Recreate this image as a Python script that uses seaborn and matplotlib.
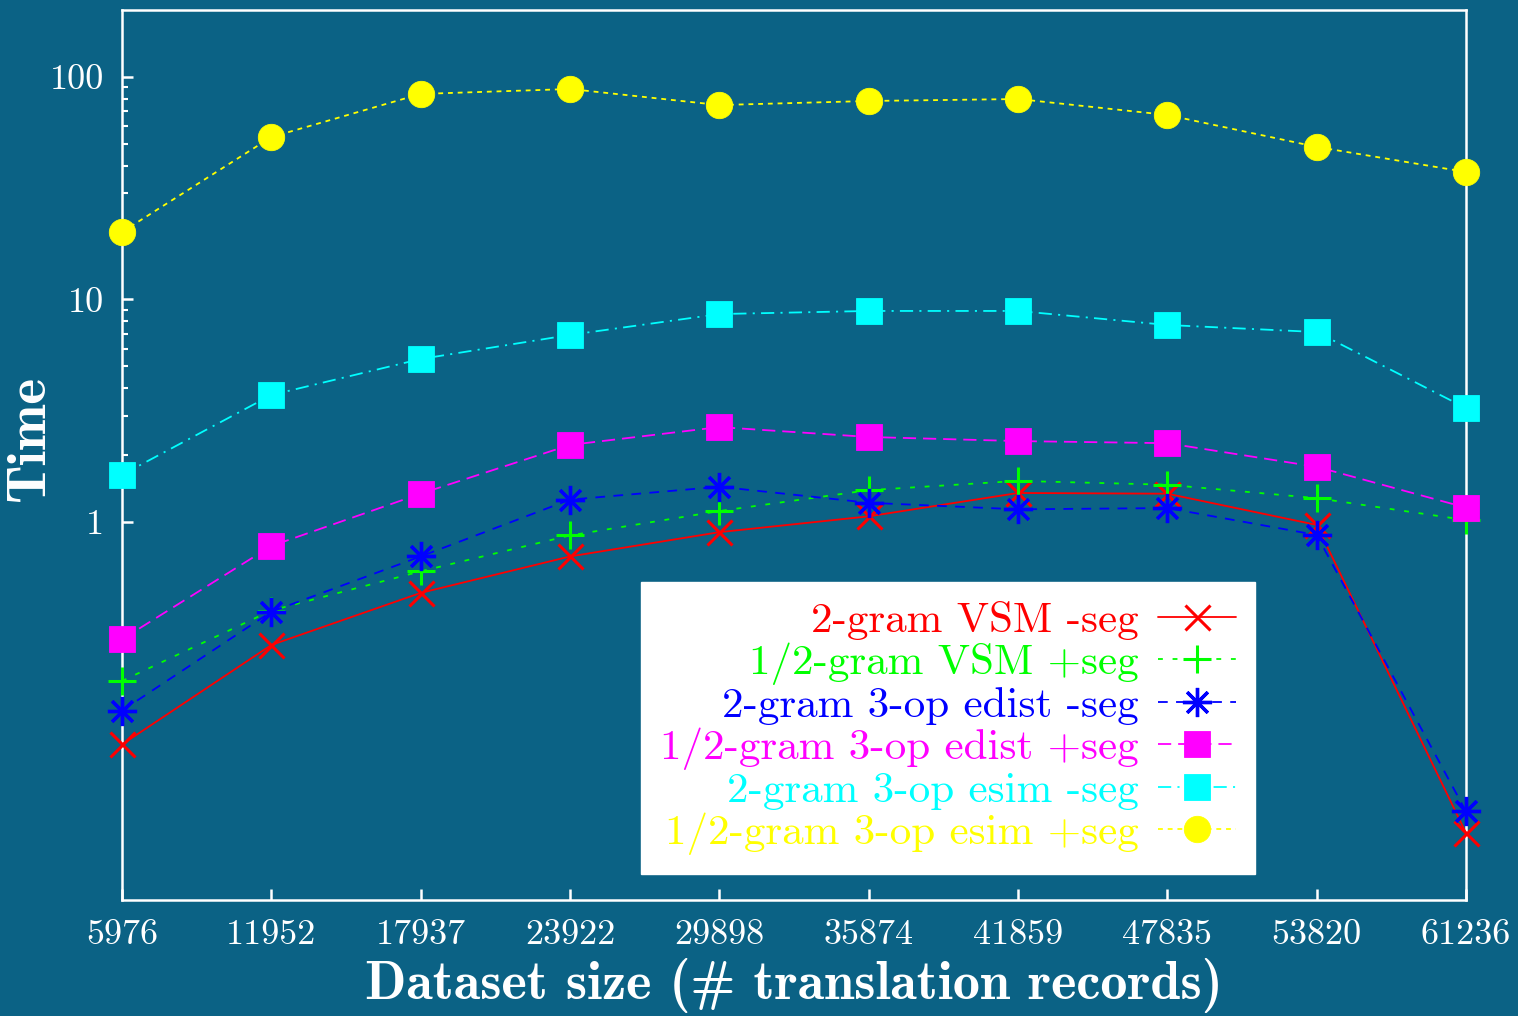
import matplotlib
matplotlib.use("Agg")
import matplotlib.pyplot as plt
import seaborn as sns
import pandas as pd
from matplotlib.ticker import FixedLocator, NullFormatter

# Dataset sizes (number of translation records), evenly spaced on the x axis
sizes = ["5976", "11952", "17937", "23922", "29898",
         "35874", "41859", "47835", "53820", "61236"]

# Running time for each method
vsm_2gram_noseg = [0.100, 0.28, 0.48, 0.70, 0.90, 1.06, 1.35, 1.34, 0.97, 0.040]
vsm_12gram_seg = [0.193, 0.40, 0.60, 0.87, 1.12, 1.39, 1.53, 1.47, 1.28, 1.02]
edist_2gram_noseg = [0.142, 0.395, 0.70, 1.26, 1.44, 1.22, 1.14, 1.155, 0.874, 0.050]
edist_12gram_seg = [0.297, 0.78, 1.34, 2.22, 2.67, 2.41, 2.31, 2.26, 1.77, 1.16]
esim_2gram_noseg = [1.63, 3.72, 5.40, 6.93, 8.6, 8.88, 8.88, 7.68, 7.14, 3.25]
esim_12gram_seg = [20.1, 53.7, 83.9, 88.3, 74.8, 78.0, 79.6, 67.5, 48.5, 37.4]

labels = ["2-gram VSM -seg", "1/2-gram VSM +seg", "2-gram 3-op edist -seg",
          "1/2-gram 3-op edist +seg", "2-gram 3-op esim -seg",
          "1/2-gram 3-op esim +seg"]
series = [vsm_2gram_noseg, vsm_12gram_seg, edist_2gram_noseg,
          edist_12gram_seg, esim_2gram_noseg, esim_12gram_seg]

BG = "#0b6285"
colors = ["#ff0000", "#00ff00", "#0000ff", "#ff00ff", "#00ffff", "#ffff00"]
markers = ["x", "+", (8, 2, 0), "s", "s", "o"]
msizes = [18, 20, 21, 19, 19, 19]
mews = [2.2, 2.2, 2.4, 0.6, 0.6, 0.6]
dashes = [(None, None), (0, (3.5, 7)), (0, (7, 6)), (0, (9.5, 5)),
          (0, (9.5, 4.5, 1.5, 4.5)), (0, (3.5, 3.5))]

sns.set_theme(style="ticks")
plt.rcParams["font.family"] = ["cmr10", "DejaVu Serif"]
plt.rcParams["axes.unicode_minus"] = False
plt.rcParams["lines.scale_dashes"] = False

fig = plt.figure(figsize=(15.18, 10.16), dpi=100, facecolor=BG)
ax = fig.add_axes([122 / 1518, 1 - 900 / 1016, 1344 / 1518, 890 / 1016])
ax.set_facecolor(BG)

x = list(range(len(sizes)))
for vals, lab, col, mk, ms, mew, ls in zip(series, labels, colors, markers,
                                          msizes, mews, dashes):
    df = pd.DataFrame({"idx": x, "time": vals})
    style = "-" if ls[0] is None else ls
    sns.lineplot(data=df, x="idx", y="time", ax=ax, color=col, label=lab,
                 marker=mk, markersize=ms, markeredgewidth=mew,
                 markeredgecolor=col, markerfacecolor=col,
                 linestyle=style, linewidth=1.3, clip_on=False, zorder=3,
                 legend=False)

ax.set_yscale("log")
ax.set_ylim(0.02, 200)
ax.set_xlim(0, 9)

ax.set_xticks(x)
ax.set_xticklabels(sizes)
ax.yaxis.set_major_locator(FixedLocator([1, 10, 100]))
ax.set_yticklabels(["1", "10", "100"])
ax.yaxis.set_minor_locator(FixedLocator([2, 3, 4, 5, 6, 7, 8, 9,
                                         20, 30, 40, 50, 60, 70, 80, 90]))
ax.yaxis.set_minor_formatter(NullFormatter())
ax.xaxis.set_minor_locator(FixedLocator([]))

ax.tick_params(axis="both", which="major", direction="in", length=8,
               width=1.8, color="white", labelcolor="white", labelsize=26)
ax.tick_params(axis="x", which="major", pad=14)
ax.tick_params(axis="y", which="major", pad=13)
ax.tick_params(axis="y", which="minor", direction="in", length=4,
               width=1.5, color="white")
ax.tick_params(top=False, right=False, which="both")

for sp in ax.spines.values():
    sp.set_color("white")
    sp.set_linewidth(1.8)
    sp.set_visible(True)

ax.set_xlabel("Dataset size (# translation records)", fontsize=39,
              color="white", family="cmb10", labelpad=5)
ax.set_ylabel("Time", fontsize=40, color="white", family="cmb10")
ax.yaxis.set_label_coords(-0.05, 0.518)

handles, hlabels = ax.get_legend_handles_labels()
leg = ax.legend(handles, hlabels, loc="upper right",
                bbox_to_anchor=(1255 / 1518, 1 - 582 / 1016),
                bbox_transform=fig.transFigure, borderaxespad=0,
                fontsize=31, markerfirst=False, labelcolor="linecolor",
                frameon=True, fancybox=False, facecolor="white",
                edgecolor="white", framealpha=1, handlelength=1.8,
                handletextpad=0.45, labelspacing=0.05, borderpad=0.45,
                numpoints=1)
for t in leg.get_texts():
    t.set_ha("right")
leg._legend_box.align = "right"
leg.set_zorder(5)

fig.savefig("out.png", dpi=100, facecolor=BG)
